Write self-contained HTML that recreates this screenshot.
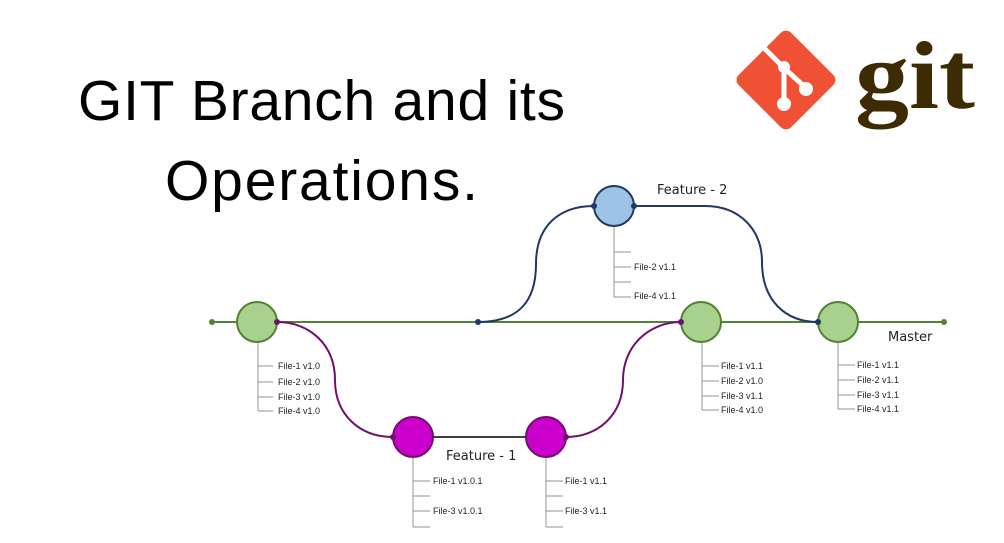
<!DOCTYPE html>
<html><head><meta charset="utf-8"><style>
body{margin:0;background:#fff;width:1004px;height:543px;overflow:hidden}
svg{display:block}
</style></head><body>
<svg width="1004" height="543" viewBox="0 0 1004 543" xmlns="http://www.w3.org/2000/svg" font-family="Liberation Sans, sans-serif">
<text x="78" y="120" font-size="57" textLength="487" lengthAdjust="spacing" fill="#000">GIT Branch and its</text>
<text x="165" y="200" font-size="57" textLength="313" lengthAdjust="spacing" fill="#000">Operations.</text>
<!-- logo -->
<g transform="translate(786,80) rotate(45)">
<rect x="-37" y="-37" width="74" height="74" rx="7" fill="#f05033"/>
</g>
<g stroke="#fff" stroke-width="5" fill="none">
<line x1="763" y1="47" x2="784" y2="68"/>
<line x1="784" y1="68" x2="784" y2="104"/>
<line x1="784" y1="68" x2="806" y2="88"/>
</g>
<circle cx="784" cy="67" r="6" fill="#fff"/>
<circle cx="806" cy="89" r="7" fill="#fff"/>
<circle cx="784" cy="104" r="7" fill="#fff"/>
<text x="855" y="108" font-family="Liberation Serif, serif" font-weight="bold" font-size="96" textLength="120" lengthAdjust="spacingAndGlyphs" fill="#3d2b03">git</text>
<!-- master line -->
<line x1="212" y1="322" x2="944" y2="322" stroke="#538135" stroke-width="2"/>
<circle cx="212" cy="322" r="3" fill="#538135"/><circle cx="944" cy="322" r="3" fill="#538135"/>
<!-- blue -->
<path d="M478,322 C520,322 536,300 536,264 C536,225 560,206 594,206 M634,206 L705,206 C740,206 762,230 762,262 C762,300 785,322 818,322" stroke="#203864" stroke-width="2" fill="none"/>
<!-- purple -->
<path d="M277,322 C310,322 335,345 335,380 C335,415 360,437 393,437 M566,437 C598,437 623,415 623,380 C623,345 650,322 681,322" stroke="#70106e" stroke-width="2" fill="none"/>
<line x1="433" y1="437" x2="526" y2="437" stroke="#404040" stroke-width="2"/>
<!-- file trees -->
<g stroke="#a6a6a6" stroke-width="1.2" fill="none">
<path d="M258,342V411M258,366h15M258,382h15M258,397h15M258,411h15"/>
<path d="M614,226V297M614,252h17M614,267h17M614,282h17M614,297h17"/>
<path d="M702,342V410M702,366h17M702,381h17M702,396h17M702,410h17"/>
<path d="M838,342V409M838,365h17M838,380h17M838,395h17M838,409h17"/>
<path d="M413,457V527M413,481h17M413,496h17M413,511h17M413,527h17"/>
<path d="M546,457V527M546,481h17M546,496h17M546,511h17M546,527h17"/>
</g>
<g font-size="9" fill="#222">
<text x="278" y="369">File-1 v1.0</text><text x="278" y="385">File-2 v1.0</text><text x="278" y="400">File-3 v1.0</text><text x="278" y="414">File-4 v1.0</text>
<text x="634" y="270">File-2 v1.1</text><text x="634" y="299">File-4 v1.1</text>
<text x="721" y="369">File-1 v1.1</text><text x="721" y="384">File-2 v1.0</text><text x="721" y="399">File-3 v1.1</text><text x="721" y="413">File-4 v1.0</text>
<text x="857" y="368">File-1 v1.1</text><text x="857" y="383">File-2 v1.1</text><text x="857" y="398">File-3 v1.1</text><text x="857" y="412">File-4 v1.1</text>
<text x="433" y="484">File-1 v1.0.1</text><text x="433" y="514">File-3 v1.0.1</text>
<text x="565" y="484">File-1 v1.1</text><text x="565" y="514">File-3 v1.1</text>
</g>
<!-- nodes -->
<g stroke-width="2">
<circle cx="257" cy="322" r="20" fill="#a9d18e" stroke="#538135"/>
<circle cx="701" cy="322" r="20" fill="#a9d18e" stroke="#538135"/>
<circle cx="838" cy="322" r="20" fill="#a9d18e" stroke="#538135"/>
<circle cx="614" cy="206" r="20" fill="#9dc3e6" stroke="#203864"/>
<circle cx="413" cy="437" r="20" fill="#cc00cc" stroke="#70106e"/>
<circle cx="546" cy="437" r="20" fill="#cc00cc" stroke="#70106e"/>
</g>
<g>
<circle cx="478" cy="322" r="3" fill="#203864"/><circle cx="594" cy="206" r="3" fill="#203864"/><circle cx="634" cy="206" r="3" fill="#203864"/><circle cx="818" cy="322" r="3" fill="#203864"/>
<circle cx="277" cy="322" r="3" fill="#70106e"/><circle cx="393" cy="437" r="3" fill="#70106e"/><circle cx="566" cy="437" r="3" fill="#70106e"/><circle cx="681" cy="322" r="3" fill="#70106e"/>
</g>
<g font-family="DejaVu Sans, sans-serif" font-size="13" fill="#222">
<text x="657" y="194">Feature - 2</text>
<text x="446" y="460">Feature - 1</text>
<text x="888" y="341">Master</text>
</g>
</svg>
</body></html>
